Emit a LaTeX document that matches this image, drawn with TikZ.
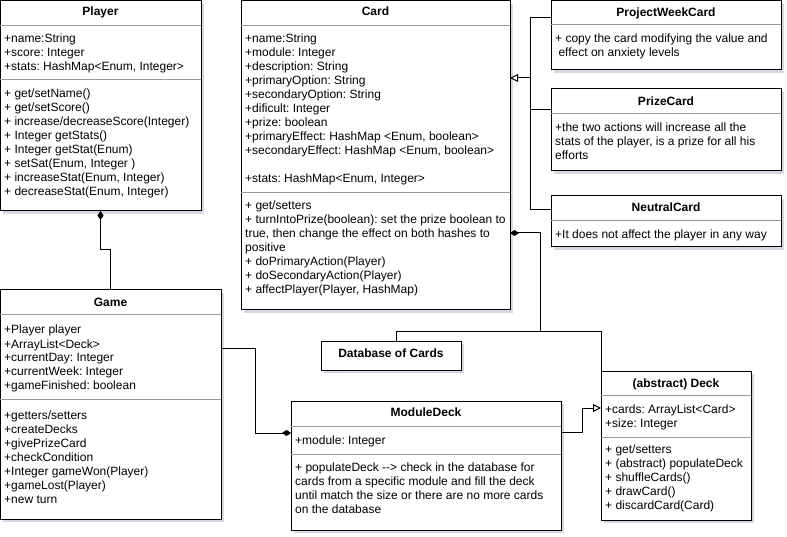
\documentclass[tikz,border=0pt]{standalone}
\usepackage{fontspec}
\setmainfont{Liberation Sans}
\frenchspacing
\usetikzlibrary{arrows.meta}
\definecolor{shadowc}{RGB}{214,214,228}
\definecolor{sepc}{RGB}{155,155,155}
\tikzset{
  boxst/.style={draw=black, line width=1pt, fill=white, inner sep=0pt, outer sep=0pt, rectangle},
  sepst/.style={draw=sepc, line width=1pt},
  txt/.style={anchor=base west, inner sep=0pt, font=\fontsize{12}{14}\selectfont},
  ttl/.style={anchor=base, inner sep=0pt, font=\fontsize{12}{14}\selectfont\bfseries},
  conn/.style={draw=black, line width=1pt},
  comp/.style={conn, {Diamond[length=9pt,width=6pt]}-},
  compend/.style={conn, -{Diamond[length=9pt,width=6pt]}},
  gen/.style={conn, -{Triangle[open, length=8pt, width=8pt, fill=white]}},
}
\newcommand{\ubox}[5]{%
  \fill[shadowc] ({#2+3},{#3+3}) rectangle ({#4+3},{#5+3});
  \node[boxst, minimum width={(#4)-(#2)}, minimum height={(#5)-(#3)}] (#1) at ({((#2)+(#4))/2},{((#3)+(#5))/2}) {};}
\newcommand{\tl}[1]{\begin{tabular}[t]{@{}l@{}}#1\end{tabular}}
\begin{document}
\begin{tikzpicture}[x=1pt,y=-1pt]
\useasboundingbox[fill=white] (0,0) rectangle (787,537);

% boxes
\ubox{player}{0}{1}{201}{211}
\ubox{card}{241}{1}{510}{310}
\ubox{pwc}{551}{1}{781}{70}
\ubox{prize}{551}{89}{781}{171}
\ubox{ncard}{551}{196}{781}{247}
\ubox{game}{0}{290}{221}{519}
\ubox{db}{321}{341}{461}{370}
\ubox{mdeck}{291}{401}{561}{530}
\ubox{deck}{601}{371}{751}{520}

% compartment separators
\draw[sepst] (player.west |- 0,26) -- (player.east |- 0,26);
\draw[sepst] (player.west |- 0,80) -- (player.east |- 0,80);
\draw[sepst] (card.west |- 0,26) -- (card.east |- 0,26);
\draw[sepst] (card.west |- 0,193) -- (card.east |- 0,193);
\draw[sepst] (pwc.west |- 0,25) -- (pwc.east |- 0,25);
\draw[sepst] (prize.west |- 0,114) -- (prize.east |- 0,114);
\draw[sepst] (ncard.west |- 0,221) -- (ncard.east |- 0,221);
\draw[sepst] (game.west |- 0,315) -- (game.east |- 0,315);
\draw[sepst] (game.west |- 0,399) -- (game.east |- 0,399);
\draw[sepst] (mdeck.west |- 0,426) -- (mdeck.east |- 0,426);
\draw[sepst] (mdeck.west |- 0,454) -- (mdeck.east |- 0,454);
\draw[sepst] (deck.west |- 0,395) -- (deck.east |- 0,395);
\draw[sepst] (deck.west |- 0,437) -- (deck.east |- 0,437);

% texts
\node[ttl] (playerT) at (100.5,16) {Player};
\node[txt] (playerA) at (4,43) {\tl{+name:String\\+score: Integer\\+stats: HashMap<Enum, Integer>}};
\node[txt] (playerM) at (4,98) {\tl{+ get/setName()\\+ get/setScore()\\+ increase/decreaseScore(Integer)\\+ Integer getStats()\\+ Integer getStat(Enum)\\+ setSat(Enum, Integer )\\+ increaseStat(Enum, Integer)\\+ decreaseStat(Enum, Integer)}};

\node[ttl] (cardT) at (375.5,16) {Card};
\node[txt] (cardA) at (245,43) {\tl{+name:String\\+module: Integer\\+description: String\\+primaryOption: String\\+secondaryOption: String\\+dificult: Integer\\+prize: boolean\\+primaryEffect: HashMap <Enum, boolean>\\+secondaryEffect: HashMap <Enum, boolean>\\ \\+stats: HashMap<Enum, Integer>}};
\node[txt] (cardM) at (245,210) {\tl{+ get/setters\\+ turnIntoPrize(boolean): set the prize boolean to\\true, then change the effect on both hashes to\\positive\\+ doPrimaryAction(Player)\\+ doSecondaryAction(Player)\\+ affectPlayer(Player, HashMap)}};

\node[ttl] (pwcT) at (666,17) {ProjectWeekCard};
\node[txt] (pwcB) at (555,43) {\tl{+ copy the card modifying the value and\\\ effect on anxiety levels}};
\node[ttl] (prizeT) at (666,106) {PrizeCard};
\node[txt] (prizeB) at (555,132) {\tl{+the two actions will increase all the\\stats of the player, is a prize for all his\\efforts}};
\node[ttl] (ncardT) at (666,212) {NeutralCard};
\node[txt] (ncardB) at (555,239) {\tl{+It does not affect the player in any way}};

\node[ttl] (gameT) at (110.5,307) {Game};
\node[txt] (gameA) at (4,334) {\tl{+Player player\\+ArrayList<Deck>\\+currentDay: Integer\\+currentWeek: Integer\\+gameFinished: boolean}};
\node[txt] (gameM) at (4,419) {\tl{+getters/setters\\+createDecks\\+givePrizeCard\\+checkCondition\\+Integer gameWon(Player)\\+gameLost(Player)\\+new turn}};

\node[ttl] (dbT) at (391,357) {Database of Cards};

\node[ttl] (mdeckT) at (426,416) {ModuleDeck};
\node[txt] (mdeckA) at (295,444) {\tl{+module: Integer}};
\node[txt] (mdeckM) at (295,471) {\tl{+ populateDeck -{}-{}> check in the database for\\cards from a specific module and fill the deck\\until match the size or there are no more cards\\on the database}};

\node[ttl] (deckT) at (676,387) {(abstract) Deck};
\node[txt] (deckA) at (605,413) {\tl{+cards: ArrayList<Card>\\+size: Integer}};
\node[txt] (deckM) at (605,453) {\tl{+ get/setters\\+ (abstract) populateDeck\\+ shuffleCards()\\+ drawCard()\\+ discardCard(Card)}};

% connectors
\coordinate (pg) at (100.5,250);
\draw[comp] (player.south) -- (pg) -| (game.north);

\coordinate (tA) at (530,18);
\coordinate (tB) at (530,110);
\coordinate (tC) at (530,210);
\coordinate (tM) at (530,78);
\draw[conn] (pwc.west |- tA) -- (tA) -- (tC) -- (ncard.west |- tC);
\draw[conn] (tB) -- (prize.west |- tB);
\draw[gen] (tM) -- (card.east |- tM);

\coordinate (cA) at (540,233);
\coordinate (cB) at (540,331);
\coordinate (cC) at (601,331);
\coordinate (cD) at (396,331);
\draw[comp] (card.east |- cA) -- (cA) -- (cB) -- (cC) -- (deck.north west);
\draw[conn] (cB) -- (cD) -- (db.north -| cD);

\coordinate (gA) at (255,348);
\coordinate (gB) at (255,433);
\draw[compend] (game.east |- gA) -- (gA) -- (gB) -- (mdeck.west |- gB);

\coordinate (mA) at (582,432);
\coordinate (mB) at (582,408);
\draw[gen] (mdeck.east |- mA) -- (mA) -- (mB) -- (deck.west |- mB);
\end{tikzpicture}
\end{document}
